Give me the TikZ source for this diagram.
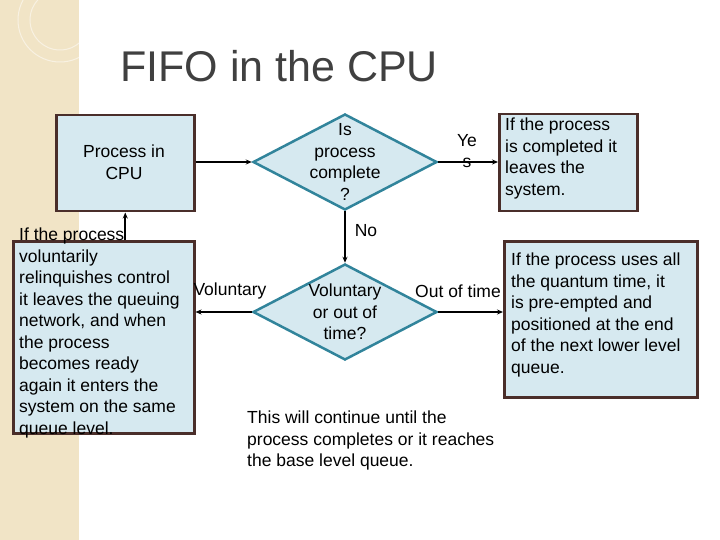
\documentclass[tikz,border=0pt]{standalone}
\usepackage{fontspec}
\setmainfont{Liberation Sans}
\usetikzlibrary{shapes.geometric,arrows.meta}
\definecolor{fillb}{HTML}{D6E9F0}
\definecolor{boxb}{HTML}{4A2E2A}
\definecolor{teal}{HTML}{31849B}
\definecolor{beige}{HTML}{F1E4C6}
\tikzset{
  box/.style={draw=boxb,line width=2.5pt,fill=fillb,inner sep=0,anchor=north west},
  dia/.style={diamond,draw=teal,line width=2.5pt,fill=fillb,inner sep=0,minimum width=184pt,minimum height=96pt},
  txt/.style={font=\fontsize{17.5}{21.5}\selectfont,align=left,inner sep=0},
  ctxt/.style={font=\fontsize{17.5}{21.5}\selectfont,align=center,inner sep=0},
  arr/.style={line width=1.8pt,-{Stealth[length=6pt,width=5pt]}}
}
\begin{document}
\begin{tikzpicture}[x=1pt,y=-1pt]
\useasboundingbox (0,0) rectangle (720,540);
\fill[white] (0,0) rectangle (720,540);
\fill[beige] (0,0) rectangle (79,540);
\draw[white,opacity=0.5,line width=1pt] (60,20) circle (30) (60,20) circle (42);
\node[font=\fontsize{43}{43}\selectfont,text=black!75,anchor=base west,inner sep=0] (title) at (120,82) {FIFO in the CPU};
\node[box,minimum width=138pt,minimum height=96pt] (cpu) at (55,114) {};
\node[ctxt] (cput) at (124,162) {Process in\\CPU};
\node[dia] (d1) at (345,162) {};
\node[ctxt] (d1t) at (345,162) {Is\\process\\complete\\?};
\node[box,minimum width=138pt,minimum height=97pt] (done) at (498,113) {};
\node[txt,anchor=north west] (donet) at (505,118) {If the process\\is completed it\\leaves the\\system.};
\node[dia] (d2) at (345,312) {};
\node[ctxt] (d2t) at (345,312) {Voluntary\\or out of\\time?};
\node[box,minimum width=181pt,minimum height=192pt] (vol) at (12,240) {};
\node[txt,anchor=north west] (volt) at (19,228) {If the process\\voluntarily\\relinquishes control\\it leaves the queuing\\network, and when\\the process\\becomes ready\\again it enters the\\system on the same\\queue level.};
\node[box,minimum width=193pt,minimum height=156pt] (oot) at (503,240) {};
\node[txt,anchor=north west] (oott) at (511,253) {If the process uses all\\the quantum time, it\\is pre-empted and\\positioned at the end\\of the next lower level\\queue.};
\draw[arr] (cpu.east |- d1.west) -- (d1.west);
\draw[arr] (d1.east) -- (done.west |- d1.east);
\draw[arr] (d1.south) -- (d2.north);
\draw[arr] (d2.west) -- (d2.west -| vol.east);
\draw[arr] (d2.east) -- (d2.east -| oot.west);
\draw[arr] (vol.north -| cpu.south) -- (cpu.south);
\node[ctxt] (yes) at (467,151) {Ye\\s};
\node[ctxt] (no) at (366,231) {No};
\node[ctxt] (vl) at (230,291) {Voluntary};
\node[ctxt] (ol) at (458,291) {Out of time};
\node[txt,anchor=north west] (bot) at (247,411) {This will continue until the\\process completes or it reaches\\the base level queue.};
\end{tikzpicture}
\end{document}
